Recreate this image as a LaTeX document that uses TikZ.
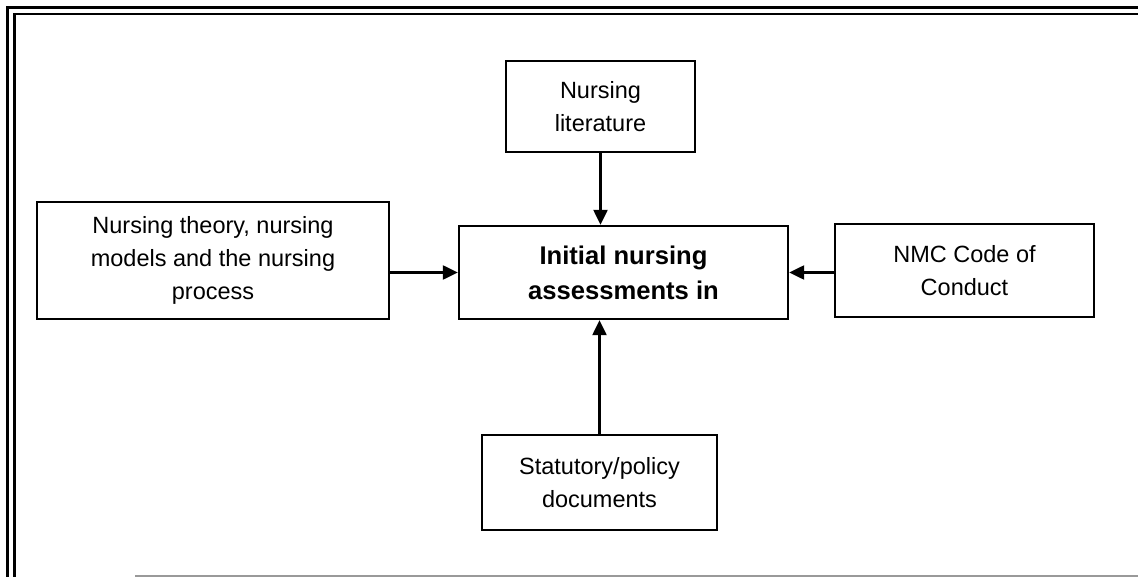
\documentclass[tikz,border=0pt]{standalone}
\usepackage{fontspec}
\setmainfont{Liberation Sans}
\usetikzlibrary{arrows.meta}
\begin{document}
\begin{tikzpicture}[x=1pt,y=-1pt,
  box/.style={draw=black,line width=2.3pt,inner sep=0pt,align=center,
    font=\fontsize{23.5}{33}\selectfont},
  hub/.style={box,font=\fontsize{25.6}{35}\selectfont\bfseries},
  feed/.style={line width=2.2pt,-{Triangle[length=15pt,width=14pt]}}]
  \useasboundingbox (0,0) rectangle (1138,577);
  \fill[white] (0,0) rectangle (1138,577);
  % double page frame (open to the right), faint bottom rule
  \begin{scope}
    \clip (0,0) rectangle (1138,577);
    \draw[line width=3.2pt] (7.5,600) -- (7.5,7.5) -- (1160,7.5);
    \draw[line width=2.2pt] (14.5,600) -- (14.5,14) -- (1160,14);
    \draw[line width=1.4pt,black!40] (135,576) -- (1138,576);
  \end{scope}
  % boxes
  \node[hub,minimum width=329pt,minimum height=93pt] (core) at (623.5,272.5)
    {Initial nursing\\assessments in};
  \node[box,minimum width=189pt,minimum height=91pt] (lit) at (600.5,106.5)
    {Nursing\\literature};
  \node[box,minimum width=352pt,minimum height=117pt] (theory) at (213,260.5)
    {Nursing theory, nursing\\models and the nursing\\process};
  \node[box,minimum width=259pt,minimum height=93pt] (nmc) at (964.5,270.5)
    {NMC Code of\\Conduct};
  \node[box,minimum width=235pt,minimum height=95pt] (stat) at (599.5,482.5)
    {Statutory/policy\\documents};
  % connectors
  \draw[feed] (lit.south) -- (lit.south |- core.north);
  \draw[feed] (stat.north) -- (stat.north |- core.south);
  \draw[feed] (core.west -| theory.east) -- (core.west);
  \draw[feed] (core.east -| nmc.west) -- (core.east);
\end{tikzpicture}
\end{document}
